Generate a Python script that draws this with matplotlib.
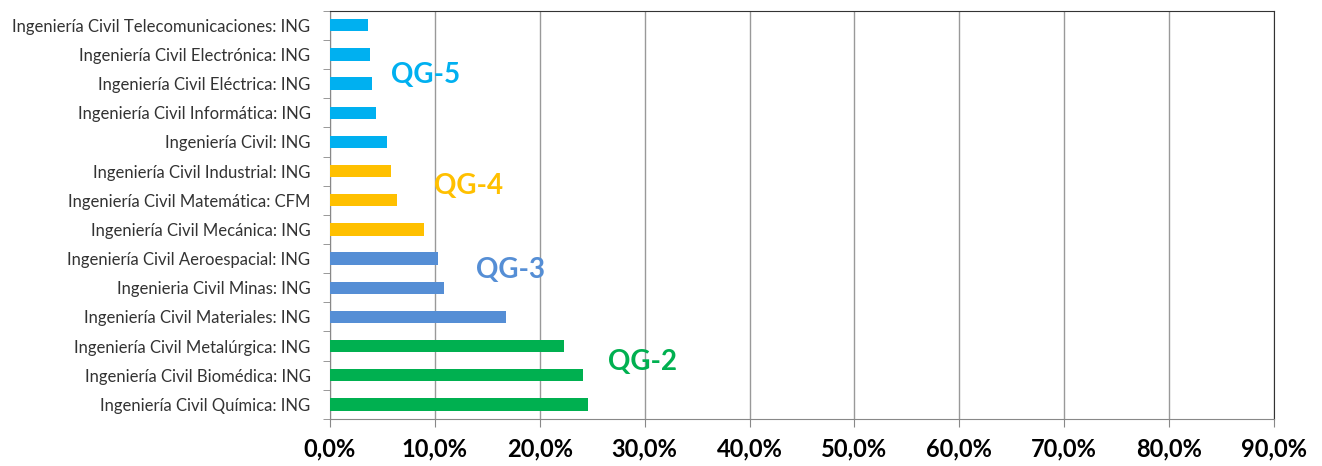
import numpy as np
import matplotlib.pyplot as plt
from matplotlib.ticker import FixedLocator, FuncFormatter

# data, top to bottom as in the chart
carreras = [
    "Ingeniería Civil Telecomunicaciones: ING",
    "Ingeniería Civil Electrónica: ING",
    "Ingeniería Civil Eléctrica: ING",
    "Ingeniería Civil Informática: ING",
    "Ingeniería Civil: ING",
    "Ingeniería Civil Industrial: ING",
    "Ingeniería Civil Matemática: CFM",
    "Ingeniería Civil Mecánica: ING",
    "Ingeniería Civil Aeroespacial: ING",
    "Ingenieria Civil Minas: ING",
    "Ingeniería Civil Materiales: ING",
    "Ingeniería Civil Metalúrgica: ING",
    "Ingeniería Civil Biomédica: ING",
    "Ingeniería Civil Química: ING",
]
porcentaje = [3.6, 3.85, 4.0, 4.4, 5.45, 5.8, 6.35, 9.0, 10.3, 10.85, 16.8, 22.35, 24.1, 24.6]
grupo = ["QG-5"] * 5 + ["QG-4"] * 3 + ["QG-3"] * 3 + ["QG-2"] * 3

colores = {"QG-5": "#00B0F0", "QG-4": "#FFC000", "QG-3": "#558ED5", "QG-2": "#00B050"}
# label positions (x in %, y in category units)
etiquetas = {"QG-5": (9.1, 11.3), "QG-4": (13.2, 7.5), "QG-3": (17.2, 4.62), "QG-2": (29.8, 1.44)}

plt.rcParams['font.family'] = ['Lato', 'DejaVu Sans']

fig = plt.figure(figsize=(13.22, 4.66), dpi=100)
ax = fig.add_axes([0.2496, 0.1009, 0.9637 - 0.2496, 0.977 - 0.1009])

n = len(carreras)
y = np.arange(n)[::-1]
ax.barh(y, porcentaje, height=0.42, color=[colores[g] for g in grupo], zorder=3)

for g, (xt, yt) in etiquetas.items():
    ax.text(xt, yt, g, color=colores[g], fontsize=20, fontweight='bold',
            ha='center', va='center', zorder=4)

ax.set_xlim(0, 90)
ax.set_ylim(-0.5, n - 0.5)
ax.set_xticks(np.arange(0, 91, 10))
ax.xaxis.set_major_formatter(FuncFormatter(lambda v, p: f"{v:.1f}%".replace('.', ',')))
ax.set_yticks(y)
ax.set_yticklabels(carreras, fontsize=12, color='#333333')
ax.yaxis.set_minor_locator(FixedLocator(np.arange(-0.5, n, 1)))
ax.tick_params(axis='y', which='major', length=0, pad=14)
ax.tick_params(axis='y', which='minor', length=5, color='#888888')
ax.tick_params(axis='x', length=6, color='#888888', labelsize=17, pad=7)
for lab in ax.get_xticklabels():
    lab.set_fontweight('bold')

ax.grid(axis='x', color='#999999', linewidth=1, zorder=0)
ax.spines['left'].set_color('#888888')
ax.spines['bottom'].set_color('#888888')
ax.spines['top'].set_color('#333333')
ax.spines['right'].set_color('#333333')

fig.savefig('out.png', dpi=100)
